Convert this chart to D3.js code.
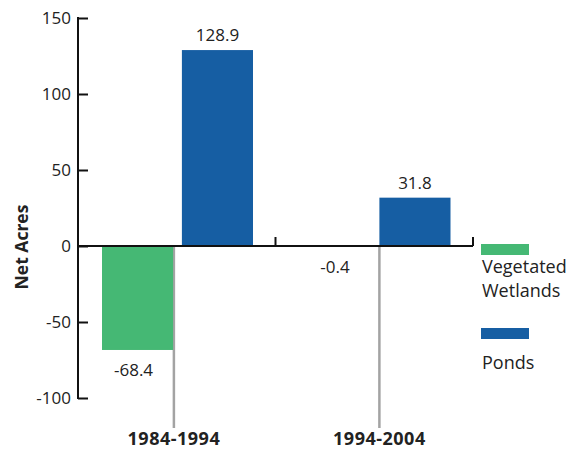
<!DOCTYPE html>
<html lang="en">
<head>
<meta charset="UTF-8">
<script src="https://d3js.org/d3.v7.min.js"></script>
<title>Net Acres</title>
<style>
  body { margin: 0; background: #fff; }
  svg text { font-family: "Open Sans", sans-serif; fill: #222; }
</style>
</head>
<body>
<div id="chart"></div>
<script>
// data
var periods = ["1984-1994", "1994-2004"];
var seriesNames = ["Vegetated Wetlands", "Ponds"];
var wetlands = [-68.4, -0.4];
var ponds = [128.9, 31.8];
var yTicks = [150, 100, 50, 0, -50, -100];

var colors = ["#45b874", "#165ea3"];

var width = 569, height = 449;
var svg = d3.select("#chart").append("svg")
    .attr("width", width)
    .attr("height", height);

var x0 = d3.scaleBand().domain(periods).range([78, 473]);
var y = d3.scaleLinear().domain([-100, 150]).range([398, 18]);

// bars within each period
var x1 = d3.scaleBand().domain(seriesNames).range([24, 175]).paddingInner(0.11);

// the grey drop line sits a little differently under each period
var dividerShift = [-8, 0];
function dividerX(d, i) { return x0(d) + x1("Ponds") + dividerShift[i]; }

var rows = periods.map(function(p, i) {
    return { period: p, values: [wetlands[i], ponds[i]] };
});

// grey divider lines below the axis
svg.selectAll(".divider")
    .data(periods)
    .enter().append("line")
    .attr("x1", dividerX)
    .attr("x2", dividerX)
    .attr("y1", y(0))
    .attr("y2", 428)
    .attr("stroke", "#a3a3a3")
    .attr("stroke-width", 2.5);

var g = svg.selectAll(".grp")
    .data(rows)
    .enter().append("g")
    .attr("transform", d => "translate(" + x0(d.period) + ",0)");

g.selectAll("rect")
    .data(d => d.values.map((v, i) => ({ name: seriesNames[i], v: v })))
    .enter().append("rect")
    .attr("x", d => x1(d.name))
    .attr("width", x1.bandwidth())
    .attr("y", d => y(Math.max(0, d.v)))
    .attr("height", d => Math.abs(y(d.v) - y(0)))
    .attr("fill", (d, i) => colors[i]);

g.selectAll(".val")
    .data(d => d.values.map((v, i) => ({ name: seriesNames[i], v: v })))
    .enter().append("text")
    .attr("x", d => x1(d.name) + x1.bandwidth() / 2 - (d.v < -10 ? 4 : 0))
    .attr("y", d => d.v >= 0 ? y(d.v) - 9 : y(d.v) + 26)
    .attr("text-anchor", "middle")
    .attr("font-size", 17)
    .text(d => d.v.toFixed(1));

// y axis
var yAxis = d3.axisRight(y).tickValues(yTicks).tickSize(10).tickFormat("");
var ya = svg.append("g").attr("transform", "translate(78,0)").call(yAxis);
ya.select(".domain").remove();
ya.selectAll("line").attr("stroke", "#111").attr("stroke-width", 2);
svg.append("line")
    .attr("x1", 78).attr("x2", 78)
    .attr("y1", y(150) - 1).attr("y2", y(-100) + 1)
    .attr("stroke", "#111").attr("stroke-width", 2);

svg.selectAll(".ylab")
    .data(yTicks)
    .enter().append("text")
    .attr("x", 71)
    .attr("y", d => y(d) + 6)
    .attr("text-anchor", "end")
    .attr("font-size", 17)
    .text(d => d);

// x axis line at zero with ticks
svg.append("line")
    .attr("x1", 78).attr("x2", 473)
    .attr("y1", y(0)).attr("y2", y(0))
    .attr("stroke", "#111").attr("stroke-width", 2);
svg.selectAll(".xtick")
    .data(periods)
    .enter().append("line")
    .attr("x1", d => x0(d) + x0.bandwidth())
    .attr("x2", d => x0(d) + x0.bandwidth())
    .attr("y1", y(0))
    .attr("y2", y(0) - 9)
    .attr("stroke", "#111").attr("stroke-width", 2);

// period labels
svg.selectAll(".plab")
    .data(periods)
    .enter().append("text")
    .attr("x", dividerX)
    .attr("y", 445)
    .attr("text-anchor", "middle")
    .attr("font-size", 18)
    .attr("font-weight", "bold")
    .attr("letter-spacing", 0.5)
    .attr("fill", "#111")
    .text(d => d);

// y title
svg.append("text")
    .attr("transform", "translate(28,247) rotate(-90)")
    .attr("text-anchor", "middle")
    .attr("font-size", 17.5)
    .attr("font-weight", "bold")
    .attr("fill", "#111")
    .text("Net Acres");

// legend
var legend = [
    { lines: ["Vegetated", "Wetlands"], ry: 244, ty: 273 },
    { lines: ["Ponds"], ry: 328, ty: 369 }
];
legend.forEach(function(l, i) {
    svg.append("rect")
        .attr("x", 481).attr("y", l.ry)
        .attr("width", 48).attr("height", 11)
        .attr("fill", colors[i]);
    l.lines.forEach(function(t, j) {
        svg.append("text")
            .attr("x", 482)
            .attr("y", l.ty + j * 24)
            .attr("font-size", 18)
            .text(t);
    });
});
</script>
</body>
</html>
